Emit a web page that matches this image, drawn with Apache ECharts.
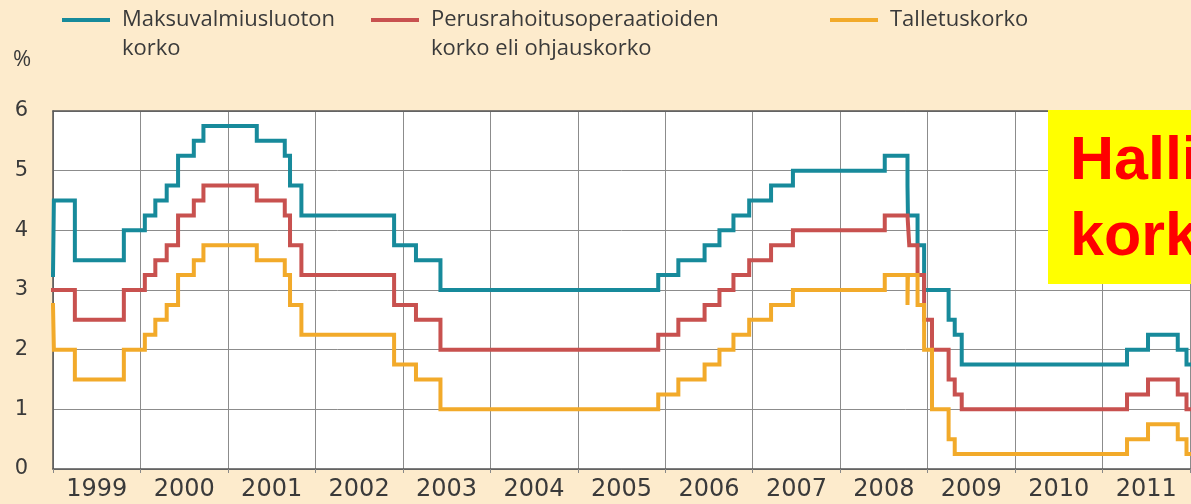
<!DOCTYPE html>
<html>
<head>
<meta charset="utf-8">
<script src="https://cdn.jsdelivr.net/npm/echarts@6/dist/echarts.min.js"></script>
<style>
  html, body { margin: 0; padding: 0; background: #fdebcc; }
  #chart { width: 1191px; height: 504px; }
</style>
</head>
<body>
<div id="chart"></div>
<script>
// koron muutospäivät (vuosina) ja korot niistä eteenpäin
const rateDates = [
  1999.00, 1999.01, 1999.25, 1999.81,
  2000.05, 2000.17, 2000.30, 2000.43, 2000.61, 2000.72,
  2001.33, 2001.65, 2001.71, 2001.84,
  2002.90, 2003.15, 2003.43,
  2005.92, 2006.15, 2006.45, 2006.62, 2006.78, 2006.96, 2007.21, 2007.46,
  2008.51, 2008.77, 2008.775, 2008.79, 2008.885, 2008.96,
  2009.05, 2009.24, 2009.31, 2009.39,
  2011.28, 2011.52, 2011.86, 2011.96, 2012.0
]
// Maksuvalmiusluoton korko
const lendingRate = [
  3.25, 4.5, 3.5, 4.0,
  4.25, 4.5, 4.75, 5.25, 5.5, 5.75,
  5.5, 5.25, 4.75, 4.25,
  3.75, 3.5, 3.0,
  3.25, 3.5, 3.75, 4.0, 4.25, 4.5, 4.75, 5.0,
  5.25, 4.75, 4.25, 4.25, 3.75, 3.0,
  3.0, 2.5, 2.25, 1.75,
  2.0, 2.25, 2.0, 1.75, 1.75
]
// Perusrahoitusoperaatioiden korko eli ohjauskorko
const mainRate = [
  3.0, 3.0, 2.5, 3.0,
  3.25, 3.5, 3.75, 4.25, 4.5, 4.75,
  4.5, 4.25, 3.75, 3.25,
  2.75, 2.5, 2.0,
  2.25, 2.5, 2.75, 3.0, 3.25, 3.5, 3.75, 4.0,
  4.25, 4.25, 4.25, 3.75, 3.25, 2.5,
  2.0, 1.5, 1.25, 1.0,
  1.25, 1.5, 1.25, 1.0, 1.0
]
// Talletuskorko
const depositRate = [
  2.75, 2.0, 1.5, 2.0,
  2.25, 2.5, 2.75, 3.25, 3.5, 3.75,
  3.5, 3.25, 2.75, 2.25,
  1.75, 1.5, 1.0,
  1.25, 1.5, 1.75, 2.0, 2.25, 2.5, 2.75, 3.0,
  3.25, 2.75, 3.25, 3.25, 2.75, 2.0,
  1.0, 0.5, 0.25, 0.25,
  0.5, 0.75, 0.5, 0.25, 0.25
]
const yearLabels = ['1999', '2000', '2001', '2002', '2003', '2004', '2005',
  '2006', '2007', '2008', '2009', '2010', '2011']

const names = [
  'Maksuvalmiusluoton korko',
  'Perusrahoitusoperaatioiden korko eli ohjauskorko',
  'Talletuskorko'
]
// legendan rivitys; tyhjä ensimmäinen rivi pitää viivan ylimmän rivin kohdalla
const legendText = {
  'Maksuvalmiusluoton korko': '\nMaksuvalmiusluoton\nkorko',
  'Perusrahoitusoperaatioiden korko eli ohjauskorko': '\nPerusrahoitusoperaatioiden\nkorko eli ohjauskorko',
  'Talletuskorko': 'Talletuskorko'
}
const colors = ['#178a9b', '#c8514f', '#f2aa2a']

const textColor = '#3a3a3a'
const lineH = 29

function makeLegend(name, left, twoLines) {
  return {
    data: [name],
    left: left,
    top: twoLines ? 20 - lineH * 1.5 : 20 - lineH / 2,
    padding: 0,
    icon: 'rect',
    itemWidth: 48,
    itemHeight: 4,
    selectedMode: false,
    formatter: (n) => legendText[n],
    textStyle: {
      fontFamily: 'Open Sans',
      fontSize: 22,
      color: textColor,
      lineHeight: lineH,
      padding: [0, 0, 0, 7]
    }
  }
}

function seriesData(values) {
  return rateDates.map((d, i) => [d, values[i]])
}

function makeSeries(idx, values) {
  return {
    name: names[idx],
    type: 'line',
    step: 'end',
    symbol: 'none',
    clip: false,
    xAxisIndex: 0,
    color: colors[idx],
    lineStyle: { width: 4, color: colors[idx], join: 'miter', cap: 'square' },
    data: seriesData(values)
  }
}

const chart = echarts.init(document.getElementById('chart'))
const option = {
  backgroundColor: '#fdebcc',
  animation: false,
  title: {
    text: '%',
    left: 13,
    top: 49,
    padding: 0,
    textStyle: { fontFamily: 'Open Sans', fontSize: 22, fontWeight: 'normal', color: textColor }
  },
  legend: [
    makeLegend(names[0], 62, true),
    makeLegend(names[1], 371, true),
    makeLegend(names[2], 830, false)
  ],
  grid: {
    left: 53,
    right: 1,
    top: 111,
    bottom: 35,
    show: true,
    backgroundColor: '#ffffff',
    borderWidth: 0
  },
  xAxis: [
    {
      type: 'value',
      min: 1999,
      max: 2012,
      interval: 1,
      position: 'bottom',
      axisLine: { show: true, lineStyle: { color: '#555', width: 1.5 } },
      axisTick: { show: true, length: 4, lineStyle: { color: '#888' } },
      axisLabel: { show: false },
      splitLine: { show: true, lineStyle: { color: '#8c8c8c', width: 1 } }
    },
    {
      type: 'category',
      data: yearLabels,
      boundaryGap: true,
      position: 'bottom',
      axisLine: { show: false },
      axisTick: { show: false },
      axisLabel: {
        margin: 9,
        fontFamily: 'DejaVu Sans',
        fontSize: 24,
        color: textColor
      }
    },
    {
      type: 'value',
      min: 1999,
      max: 2012,
      position: 'top',
      axisLine: { show: true, lineStyle: { color: '#555', width: 1.5 } },
      axisTick: { show: false },
      axisLabel: { show: false },
      splitLine: { show: false }
    }
  ],
  yAxis: {
    type: 'value',
    min: 0,
    max: 6,
    interval: 1,
    axisLine: { show: true, lineStyle: { color: '#555', width: 1.5 } },
    axisTick: { show: false },
    axisLabel: {
      margin: 25,
      fontFamily: 'DejaVu Sans',
      fontSize: 21,
      color: textColor
    },
    splitLine: { show: true, lineStyle: { color: '#8c8c8c', width: 1 } }
  },
  series: [
    makeSeries(0, lendingRate),
    makeSeries(1, mainRate),
    makeSeries(2, depositRate)
  ],
  graphic: [
    {
      type: 'rect',
      z: 100,
      shape: { x: 1048, y: 110, width: 160, height: 174 },
      style: { fill: '#ffff00' }
    },
    {
      type: 'text',
      z: 101,
      x: 1070,
      y: 162,
      style: {
        text: 'Halli',
        font: 'bold 61px "Liberation Sans"',
        fill: '#ff0000',
        verticalAlign: 'middle'
      }
    },
    {
      type: 'text',
      z: 101,
      x: 1070,
      y: 238,
      style: {
        text: 'kork',
        font: 'bold 61px "Liberation Sans"',
        fill: '#ff0000',
        verticalAlign: 'middle'
      }
    }
  ]
}
chart.setOption(option)
</script>
</body>
</html>
